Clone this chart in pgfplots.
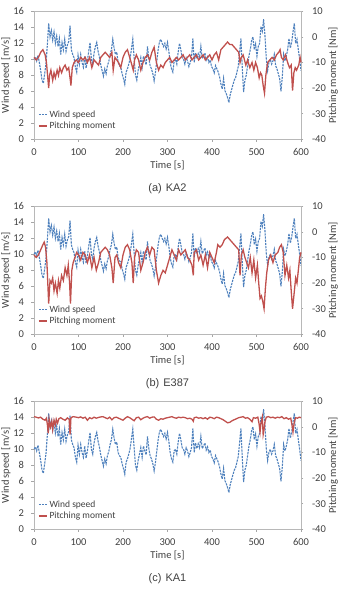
\documentclass[border=0pt]{standalone}
\usepackage{pgfplots}
\pgfplotsset{compat=1.18}
\usepackage{pgfplotstable}
\usepackage{fontspec}
\setmainfont{Carlito}
\newfontfamily\capfont{Liberation Sans}

\definecolor{ws}{HTML}{4F81BD}
\definecolor{pm}{HTML}{C0504D}
\definecolor{txt}{HTML}{404040}

% wind speed record (same inflow for all three blades)
\pgfplotstableread{
t v
0 10.0
3 10.3
6 9.8
9 10.5
12 9.6
15 8.6
18 7.4
21 7.0
24 8.2
27 9.5
30 11.8
33 14.5
36 12.8
39 13.6
42 12.4
45 13.4
48 12.0
51 12.9
54 11.6
57 12.6
60 10.6
63 12.1
66 11.2
69 12.5
72 11.0
75 11.8
78 12.2
81 14.2
84 11.2
87 10.6
90 10.2
93 9.0
96 8.4
99 10.5
102 9.4
105 10.6
108 9.6
111 9.0
114 10.4
117 8.9
120 9.8
123 11.0
126 12.1
129 10.0
132 9.4
135 10.8
138 11.6
141 12.1
144 11.0
147 10.3
150 9.3
153 8.6
156 7.9
159 8.8
162 8.2
165 9.2
168 9.7
171 10.6
174 11.2
177 12.5
180 11.4
183 10.6
186 10.9
189 9.6
192 9.2
195 9.0
198 8.2
201 7.6
204 6.9
207 8.4
210 8.8
213 9.4
216 10.1
219 11.3
222 12.5
225 10.2
228 8.0
231 7.4
234 8.6
237 9.4
240 10.2
243 9.0
246 10.4
249 9.8
252 9.3
255 11.6
258 10.1
261 9.2
264 8.8
267 8.2
270 7.3
273 8.4
276 9.8
279 11.2
282 12.2
285 12.5
288 12.0
291 11.6
294 12.0
297 11.3
300 12.1
303 11.0
306 9.6
309 8.8
312 8.4
315 9.8
318 10.0
321 9.4
324 10.9
327 12.0
330 11.2
333 10.2
336 10.0
339 9.4
342 10.2
345 9.8
348 9.1
351 9.6
354 10.2
357 12.6
360 9.6
363 10.8
366 10.1
369 10.7
372 10.2
375 11.6
378 10.1
381 10.4
384 10.8
387 9.9
390 10.3
393 9.6
396 9.9
399 9.1
402 8.8
405 8.3
408 9.2
411 8.8
414 8.4
417 7.8
420 6.9
423 6.3
426 7.6
429 6.1
432 5.7
435 5.2
438 4.6
441 5.6
444 6.2
447 6.8
450 7.4
453 7.7
456 8.4
459 9.1
462 10.8
465 12.6
468 9.0
471 5.9
474 7.4
477 8.0
480 9.2
483 10.4
486 11.2
489 12.3
492 12.8
495 11.2
498 11.9
501 10.4
504 11.6
507 12.0
510 14.1
513 13.5
516 15.0
519 13.0
522 10.1
525 8.6
528 9.6
531 10.0
534 9.4
537 9.8
540 10.6
543 9.2
546 8.8
549 8.2
552 7.6
555 6.0
558 7.8
561 10.6
564 9.8
567 10.4
570 11.2
573 12.6
576 11.4
579 12.1
582 13.4
585 14.5
588 12.0
591 12.5
594 11.2
597 10.0
600 8.6
}\windtab

% pitching moment, KA2
\pgfplotstableread{
t m
0 -8
5 -9
10 -8
15 -6
20 -5
25 -7
28 -10
30 -14
33 -20
35 -15
38 -13
42 -17
45 -14
48 -16
52 -13
55 -15
58 -12
62 -14
66 -12
70 -11
74 -13
78 -12
81 -16
83 -19
86 -12
90 -10
95 -9
100 -10
105 -8
110 -9
115 -8
120 -10
125 -8
130 -12
135 -9
140 -10
145 -11
150 -8
155 -7
160 -6
165 -7
170 -8
175 -6
178 -13
182 -8
186 -9
190 -10
195 -12
200 -8
205 -6
210 -5
215 -8
220 -11
223 -13
226 -9
230 -7
235 -9
240 -13
245 -10
250 -8
255 -7
260 -9
265 -6
270 -4
275 -10
280 -13
285 -11
290 -12
295 -10
300 -9
305 -8
310 -10
315 -9
320 -8
325 -9
330 -8
335 -7
340 -9
345 -8
350 -7
355 -9
360 -8
365 -7
370 -9
375 -8
380 -7
385 -9
390 -8
395 -7
400 -9
405 -7
410 -6
415 -9
420 -5
425 -4
430 -3
435 -2
440 -3
445 -3
450 -4
455 -5
460 -6
463 -10
466 -8
470 -7
473 -9
476 -11
480 -9
485 -12
490 -10
494 -13
498 -10
502 -12
506 -16
509 -14
512 -15
515 -19
518 -22
521 -15
525 -10
530 -9
535 -8
540 -9
545 -7
550 -6
553 -5
556 -8
560 -9
565 -7
570 -10
574 -12
578 -11
581 -21
584 -14
587 -12
590 -13
595 -11
598 -8
600 -10
}\pmKAtwo

% pitching moment, E387
\pgfplotstableread{
t m
0 -9
5 -10
10 -9
15 -7
20 -5
23 -4
26 -6
29 -12
31 -20
33 -28
36 -19
39 -20
42 -18
45 -23
48 -20
52 -24
55 -19
58 -22
62 -17
66 -19
70 -14
74 -17
77 -13
80 -20
82 -28
85 -15
88 -12
92 -10
96 -8
100 -9
105 -11
110 -8
115 -9
120 -12
125 -9
130 -14
135 -10
140 -15
145 -12
150 -8
155 -7
160 -6
165 -7
170 -9
175 -14
178 -20
182 -10
186 -9
190 -12
195 -14
200 -9
205 -6
210 -5
215 -7
220 -12
223 -20
226 -10
230 -7
235 -8
240 -15
245 -12
250 -8
255 -6
260 -9
265 -6
270 -7
275 -15
280 -20
285 -17
290 -15
295 -16
300 -13
305 -10
310 -7
315 -9
320 -11
325 -7
330 -9
335 -8
340 -7
345 -10
350 -11
355 -13
358 -17
360 -8
365 -7
370 -11
375 -9
380 -13
385 -9
390 -14
395 -8
400 -10
405 -12
410 -8
413 -5
418 -6
423 -5
428 -3
435 -2
440 -3
445 -4
450 -5
455 -6
460 -7
463 -17
466 -9
470 -7
474 -10
478 -12
482 -14
486 -10
490 -16
494 -11
498 -18
502 -13
505 -20
508 -26
511 -25
514 -27
517 -30
520 -22
523 -16
527 -11
532 -9
537 -12
542 -9
548 -8
552 -6
556 -5
560 -8
564 -17
568 -13
572 -18
575 -15
578 -23
581 -30
584 -25
588 -18
591 -20
594 -15
597 -10
600 -8
}\pmEthree

% pitching moment, KA1
\pgfplotstableread{
t m
0 4.0
5 3.8
10 3.5
15 3.8
20 3.0
25 2.6
28 3.4
30 1.0
32 -2.5
34 3.0
37 0.0
40 2.2
42 -1.0
45 2.6
48 0.8
50 3.0
53 1.5
56 3.2
60 3.6
65 3.0
70 2.6
75 3.5
79 3.0
81 -3.0
83 3.6
88 4.0
95 3.8
100 3.6
105 3.9
110 3.4
115 3.8
120 2.6
125 3.6
130 3.2
135 3.8
140 3.4
145 3.7
150 3.9
155 4.0
160 3.6
165 3.2
170 3.8
175 2.8
180 3.6
185 3.8
190 3.4
195 3.0
200 2.6
205 3.4
210 4.0
215 3.6
220 3.0
225 2.4
230 3.6
235 3.8
240 2.8
245 3.4
250 3.8
255 4.0
260 3.4
265 3.8
270 3.9
275 3.0
280 2.6
285 3.2
290 3.0
295 3.4
300 3.6
305 3.8
310 4.0
315 3.6
320 3.4
325 3.8
330 3.6
335 3.8
340 3.6
345 3.2
350 3.4
355 3.0
358 2.2
360 3.6
365 3.8
370 3.4
375 3.6
380 3.2
385 3.6
390 3.0
395 3.8
400 3.6
405 3.2
410 3.8
415 3.6
420 3.2
425 2.8
430 2.2
435 1.6
440 1.8
445 2.4
450 2.8
455 3.2
460 3.6
465 3.8
470 4.0
475 3.4
480 3.6
485 3.0
490 2.0
493 3.6
498 3.4
503 3.8
506 1.0
508 -2.0
510 1.5
513 3.8
515 -3.0
517 -1.0
519 2.0
522 3.8
527 4.0
532 3.6
537 3.8
542 3.4
547 3.8
552 3.6
557 4.0
562 3.2
567 3.6
572 3.0
577 3.4
580 0.5
582 -2.0
585 2.0
588 3.6
592 3.4
596 3.8
600 3.6
}\pmKAone

\pgfplotsset{
  panel/.style={
    scale only axis, width=267pt, height=128pt,
    xmin=0, xmax=600, xtick={0,100,...,600},
    axis line style={black!28},
    tick style={black!35, line width=0.4pt},
    tick align=outside, major tick length=2.5pt,
    ticklabel style={font=\fontsize{10.5}{12}\selectfont, text=txt},
    label style={font=\fontsize{10.5}{12}\selectfont, text=txt},
    /pgf/number format/assume math mode=true,
    xticklabel style={yshift=-3pt},
  },
  windline/.style={ws, line width=1.1pt, dash pattern=on 2.2pt off 1pt},
  pmline/.style={pm, line width=1.3pt},
}

\newcommand{\panel}[3]{%
  \begin{axis}[panel, at={(34pt,#1)}, anchor=south west,
      ymin=0, ymax=16, ytick={0,2,...,16},
      ytick pos=left, xtick pos=bottom,
      yticklabel style={xshift=-4pt},
      xlabel={Time [s]}, ylabel={Wind speed [m/s]},
      xlabel style={at={(axis description cs:0.5,0)}, anchor=center, yshift=-26pt},
      ylabel style={at={(axis description cs:-0.105,0.5)}, anchor=center}]
    \addplot[windline] table[x=t, y=v] {\windtab};
  \end{axis}
  \begin{axis}[panel, at={(34pt,#1)}, anchor=south west,
      ymin=-40, ymax=10, ytick={-40,-30,...,10},
      axis y line*=right, hide x axis, clip=false,
      yticklabel style={xshift=5pt},
      ylabel={Pitching moment [Nm]},
      ylabel style={at={(axis description cs:1.121,0.5)}, anchor=center},
      legend style={at={(axis description cs:0.015,0.24)}, anchor=north west,
        draw=none, fill=none, font=\fontsize{9.5}{11}\selectfont, text=txt,
        row sep=-1pt, inner sep=0pt},
      legend cell align=left,
      legend image code/.code={\draw[##1] (0pt,0pt) -- (8pt,0pt);}]
    \addlegendimage{windline}
    \addlegendentry{Wind speed}
    \addplot[pmline] table[x=t, y=m] {#2};
    \addlegendentry{Pitching moment}
    \node[font=\capfont\fontsize{11}{13}\selectfont, text=txt]
      at (axis description cs:0.5,0) [yshift=-49pt] {#3};
  \end{axis}%
}

\begin{document}
\begin{tikzpicture}
  \useasboundingbox (0,0) rectangle (340pt,590pt);
  \panel{450.7pt}{\pmKAtwo}{(a)\hspace{4pt}KA2}
  \panel{255.7pt}{\pmEthree}{(b)\hspace{4pt}E387}
  \panel{60.7pt}{\pmKAone}{(c)\hspace{4pt}KA1}
\end{tikzpicture}
\end{document}
